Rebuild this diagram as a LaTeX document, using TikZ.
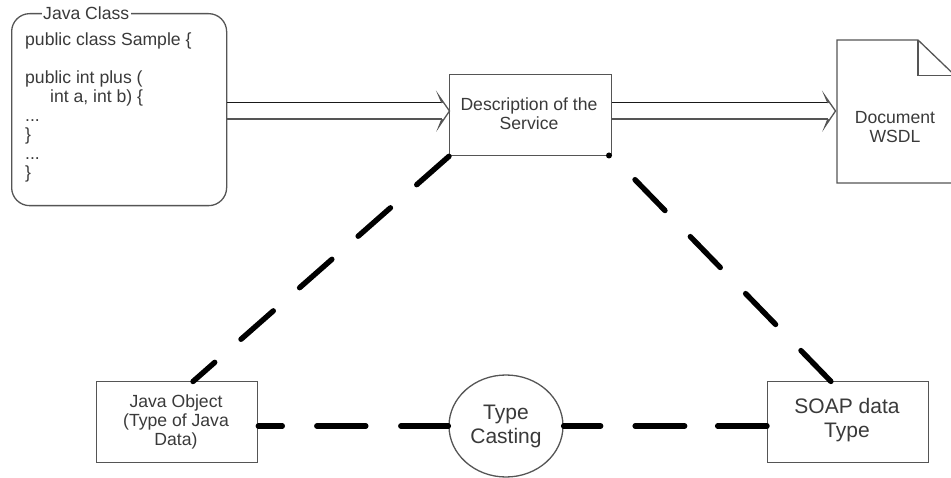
\documentclass[tikz,border=0pt]{standalone}
\usepackage{fontspec}
\setmainfont{Liberation Sans}
\usetikzlibrary{shapes.geometric}
\definecolor{edge}{HTML}{555555}
\definecolor{txt}{HTML}{3A3A3A}
\tikzset{
  x=1pt,y=-1pt,
  lbl/.style={font=\fontsize{17.6}{19}\selectfont,text=txt,align=center,inner sep=0pt},
  lblbig/.style={lbl,font=\fontsize{21}{24}\selectfont},
  boxn/.style={draw=edge,line width=1.3pt,fill=white,anchor=north west,inner sep=0pt,lbl},
  thick dash/.style={line width=5.4pt,line cap=round,black},
  railtop/.style={draw=black!90,line width=1pt},
  railbot/.style={draw=edge,line width=1.5pt},
}
\begin{document}
\begin{tikzpicture}
\useasboundingbox (0,0) rectangle (951,478);
\clip (0,0) rectangle (951,478);
% boxes
\node[boxn,rounded corners=18pt,minimum width=215pt,minimum height=192pt] (cls) at (11,13) {};
\node[lbl,fill=white,inner xsep=1.5pt,inner ysep=0pt,anchor=west] (clsl) at (41.5,13) {Java Class};
\node[lbl,align=left,anchor=north west] (code) at (25,32.5) {public class Sample \{\\[19pt]public int plus (\\\hspace{25pt}int a, int b) \{\\...\\\}\\...\\\}};
\node[boxn,minimum width=162pt,minimum height=81pt] (desc) at (449,74) {};
\node[lbl] (desct) at (529,113.5) {Description of the\\Service};
\node[boxn,minimum width=161pt,minimum height=81pt] (obj) at (96,381) {};
\node[lbl] (objt) at (176,422) {Java Object\\(Type of Java\\Data)};
\node[boxn,minimum width=161pt,minimum height=81pt] (soap) at (767,381) {};
\node[lblbig] (soapt) at (847,420) {SOAP data\\Type};
\node[draw=edge,line width=1.3pt,fill=white,ellipse,minimum width=114pt,minimum height=102pt,inner sep=0pt] (cast) at (506,426) {};
\node[lblbig] (castt) at (506,426) {Type\\Casting};
% document
\coordinate (d1) at (837,40);
\coordinate (d2) at (918,40);
\coordinate (d3) at (918,75.5);
\coordinate (d4) at (955,75.5);
\coordinate (d5) at (955,183);
\coordinate (d6) at (837,183);
\draw[edge,line width=1.3pt,line join=miter] (d1) -- (d2) -- (d4) -- (d5) -- (d6) -- cycle;
\draw[edge,line width=1.3pt] (d2) -- (d3) -- (d4);
\node[lbl] (doct) at (895,127) {Document\\WSDL};
% hollow arrows
\coordinate (a1) at (442,103);\coordinate (a2) at (442,119);
\coordinate (a3) at (439,96);\coordinate (a4) at (439,126.5);\coordinate (a5) at (449.5,111);
\draw[railtop] (cls.east |- a1) -- (a1);
\draw[railbot] (cls.east |- a2) -- (a2);
\draw[edge,line width=1.3pt,line join=miter] (a1) -- (a3) -- (a5) -- (a4) -- (a2);
\coordinate (b1) at (828,103);\coordinate (b2) at (828,119);
\coordinate (b3) at (825,96);\coordinate (b4) at (825,126.5);\coordinate (b5) at (835.5,111);
\draw[railtop] (desc.east |- b1) -- (b1);
\draw[railbot] (desc.east |- b2) -- (b2);
\draw[edge,line width=1.3pt,line join=miter] (b1) -- (b3) -- (b5) -- (b4) -- (b2);
% thick dashed connectors
\coordinate (objtop) at (193,381.5);
\coordinate (soaptop) at (831,381.5);
\draw[thick dash,dash pattern=on 43pt off 35pt] (desc.south west) -- (objtop);
\draw[thick dash,dash pattern=on 43pt off 36.4pt,dash phase=46.8pt] (desc.south east) -- (soaptop);
\draw[thick dash,dash pattern=on 24pt off 34.5pt on 49pt off 35pt on 52pt off 30pt] (obj.east |- cast.west) -- (cast.west);
\draw[thick dash,dash pattern=on 37pt off 34.5pt on 49.5pt off 33pt on 60pt off 30pt] (cast.east) -- (soap.west |- cast.east);
\node[fill=black,circle,minimum size=6pt,inner sep=0pt] (dot) at (609,155.5) {};
\end{tikzpicture}
\end{document}
